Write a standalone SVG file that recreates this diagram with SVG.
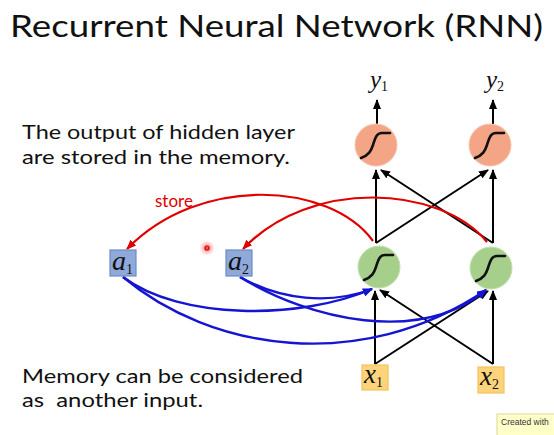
<svg xmlns="http://www.w3.org/2000/svg" width="554" height="435" viewBox="0 0 554 435">
<style>
.t{font-family:Lato,"Open Sans","Liberation Sans",sans-serif;fill:#111}
.m{font-family:"Liberation Serif","DejaVu Serif",serif;font-style:italic;fill:#111}
.s{font-family:"Liberation Serif","DejaVu Serif",serif;font-style:normal}
.k{stroke:#000;stroke-width:2;fill:none;marker-end:url(#ak)}
.r{stroke:#e00000;stroke-width:2.2;fill:none;marker-end:url(#ar)}
.b{stroke:#1414d2;stroke-width:2.4;fill:none;marker-end:url(#ab)}
.out{fill:#f3a586;stroke:#f7c3ad;stroke-width:1}
.hid{fill:#a6cf8c;stroke:#c3e0b0;stroke-width:1}
.mem{fill:#8fa9da;stroke:#6d8cc4;stroke-width:1.2}
.inp{fill:#fdd47c;stroke:#f5c25c;stroke-width:1.2}
.sig{fill:none;stroke:#111;stroke-width:2.6;stroke-linecap:round}
</style>
<defs>
<marker id="ak" markerUnits="userSpaceOnUse" markerWidth="10" markerHeight="8" refX="9" refY="4" orient="auto"><path d="M0,0 L10,4 L0,8 Z" fill="#000"/></marker>
<marker id="ar" markerUnits="userSpaceOnUse" markerWidth="10" markerHeight="8" refX="9" refY="4" orient="auto"><path d="M0,0 L10,4 L0,8 Z" fill="#e00000"/></marker>
<marker id="ab" markerUnits="userSpaceOnUse" markerWidth="10" markerHeight="8" refX="9" refY="4" orient="auto"><path d="M0,0 L10,4 L0,8 Z" fill="#1414d2"/></marker>
<path id="sg" class="sig" d="M-15,13 C-7,10 -5,6 -3,0 S0,-12 6,-12 L14,-12"/>
<radialGradient id="dot"><stop offset="0" stop-color="#ff2020" stop-opacity="0.9"/><stop offset="0.4" stop-color="#ff6060" stop-opacity="0.5"/><stop offset="1" stop-color="#ff9090" stop-opacity="0"/></radialGradient>
</defs>
<rect width="554" height="435" fill="#fff"/>
<text class="t" x="10" y="37" font-size="31" textLength="533" lengthAdjust="spacingAndGlyphs">Recurrent Neural Network (RNN)</text>
<text class="t" x="22" y="139" font-size="19.5" textLength="273" lengthAdjust="spacingAndGlyphs">The output of hidden layer</text>
<text class="t" x="22" y="164" font-size="19.5" textLength="268" lengthAdjust="spacingAndGlyphs">are stored in the memory.</text>
<text class="t" x="22" y="383" font-size="19.5" textLength="281" lengthAdjust="spacingAndGlyphs">Memory can be considered</text>
<text class="t" x="22" y="407" font-size="19.5" textLength="181" lengthAdjust="spacingAndGlyphs" xml:space="preserve">as  another input.</text>
<g id="connectors">
<path class="k" d="M377,124 L377,100"/>
<path class="k" d="M493,124 L493,100"/>
<path class="k" d="M376,243 L376,170"/>
<path class="k" d="M376,243 L488,170"/>
<path class="k" d="M493,243 L493,170"/>
<path class="k" d="M493,243 L381,170"/>
<path class="k" d="M375,364 L375,291"/>
<path class="k" d="M375,364 L488,291"/>
<path class="k" d="M493,364 L493,291"/>
<path class="k" d="M493,364 L380,290"/>
<path class="r" d="M373,241 C330,182 200,174 127,249"/>
<path class="r" d="M487,242 C440,185 310,178 243,249"/>
<path class="b" d="M123,277 C180,320 300,320 372,289"/>
<path class="b" d="M123,277 C210,350 360,375 486,290"/>
<path class="b" d="M240,277 C280,300 330,305 372,289"/>
<path class="b" d="M240,277 C310,320 420,345 486,290"/>
</g>
<text x="155" y="207" font-family="Lato,Open Sans,Liberation Sans,sans-serif" font-size="17" fill="#e00000">store</text>
<g id="y1"><text class="m" x="370" y="88" font-size="25">y<tspan class="s" font-size="14" dy="3">1</tspan></text></g>
<g id="y2"><text class="m" x="486" y="88" font-size="25">y<tspan class="s" font-size="14" dy="3">2</tspan></text></g>
<g id="o1"><circle class="out" cx="376" cy="145" r="21"/><use href="#sg" x="376" y="145"/></g>
<g id="o2"><circle class="out" cx="490" cy="145" r="21"/><use href="#sg" x="490" y="145"/></g>
<g id="h1"><circle class="hid" cx="379" cy="267" r="21"/><use href="#sg" x="379" y="267"/></g>
<g id="h2"><circle class="hid" cx="491" cy="268" r="21"/><use href="#sg" x="491" y="268"/></g>
<g id="a1"><rect class="mem" x="110" y="250" width="26" height="26"/><text class="m" x="112" y="270" font-size="28">a<tspan class="s" font-size="14" dy="4">1</tspan></text></g>
<g id="a2"><rect class="mem" x="226" y="250" width="26" height="26"/><text class="m" x="228" y="270" font-size="28">a<tspan class="s" font-size="14" dy="4">2</tspan></text></g>
<g id="x1"><rect class="inp" x="362" y="365" width="26" height="25"/><text class="m" x="364" y="383" font-size="27">x<tspan class="s" font-size="14" dy="4">1</tspan></text></g>
<g id="x2"><rect class="inp" x="478" y="367" width="26" height="26"/><text class="m" x="480" y="385" font-size="27">x<tspan class="s" font-size="14" dy="4">2</tspan></text></g>
<circle cx="207" cy="248" r="8" fill="url(#dot)"/>
<circle cx="207" cy="248" r="2" fill="none" stroke="#d00000" stroke-width="1.2"/>
<rect x="497" y="414" width="60" height="24" fill="#ffffc8" stroke="#d8d8a0" stroke-width="1"/>
<text x="501" y="425" font-family="Liberation Sans,sans-serif" font-size="8.5" fill="#333">Created with</text>
</svg>
